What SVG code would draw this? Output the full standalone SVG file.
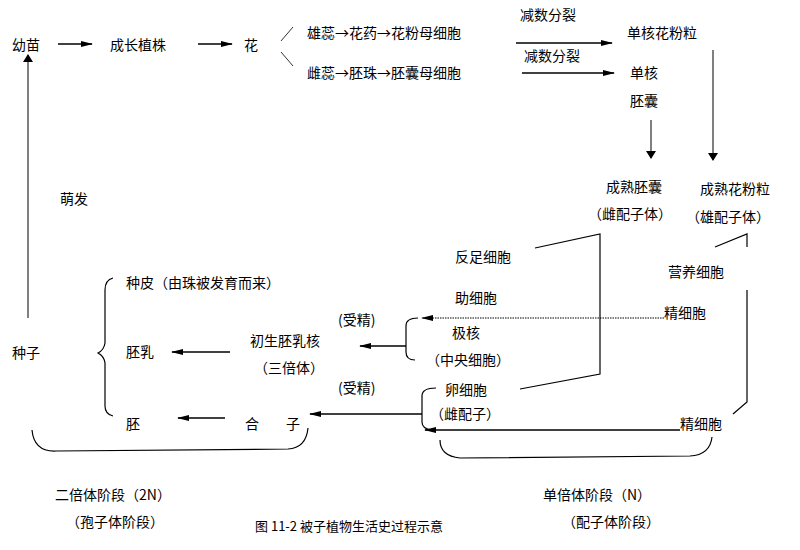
<svg xmlns="http://www.w3.org/2000/svg" width="800" height="550" viewBox="0 0 800 550">
<style>
text{font-family:"Noto Sans CJK SC","Noto Sans",sans-serif;font-size:14px;fill:#000}
.l{stroke:#000;stroke-width:1.2;fill:none}
.a{stroke:#000;stroke-width:1.5;fill:none;marker-end:url(#ah)}
.t{stroke:#000;stroke-width:1;fill:none;marker-end:url(#th)}
</style>
<defs>
<marker id="ah" markerWidth="12" markerHeight="8" refX="11" refY="4" orient="auto" markerUnits="userSpaceOnUse"><path d="M0,1 L12,4 L0,7 Z" fill="#000"/></marker>
<marker id="th" markerWidth="8" markerHeight="10" refX="7" refY="5" orient="auto" markerUnits="userSpaceOnUse"><path d="M0,0 L8,5 L0,10 Z" fill="#000"/></marker>
</defs>
<rect width="800" height="550" fill="#fff"/>
<g id="nodes">
<g id="n-youmiao"><text x="12" y="50">幼苗</text></g>
<g id="n-zhizhu"><text x="110" y="50">成长植株</text></g>
<g id="n-hua"><text x="244" y="50">花</text></g>
<g id="n-xiongrui"><text x="307" y="38">雄蕊→花药→花粉母细胞</text></g>
<g id="n-cirui"><text x="307" y="78">雌蕊→胚珠→胚囊母细胞</text></g>
<g id="n-jianshu1"><text x="520" y="20">减数分裂</text></g>
<g id="n-jianshu2"><text x="524" y="61">减数分裂</text></g>
<g id="n-danhehua"><text x="627" y="38">单核花粉粒</text></g>
<g id="n-danhepei"><text x="630" y="78">单核</text><text x="630" y="106">胚囊</text></g>
<g id="n-peinang"><text x="606" y="192">成熟胚囊</text><text x="588" y="219">（雌配子体）</text></g>
<g id="n-huafen"><text x="700" y="194">成熟花粉粒</text><text x="686" y="222">（雄配子体）</text></g>
<g id="n-mengfa"><text x="60" y="204">萌发</text></g>
<g id="n-zhongzi"><text x="12" y="358">种子</text></g>
<g id="n-zhongpi"><text x="126" y="288">种皮（由珠被发育而来）</text></g>
<g id="n-peiru"><text x="126" y="357">胚乳</text></g>
<g id="n-pei"><text x="126" y="429">胚</text></g>
<g id="n-chusheng"><text x="250" y="346">初生胚乳核</text><text x="254" y="373">（三倍体）</text></g>
<g id="n-heizi"><text x="245" y="429">合</text><text x="286" y="429">子</text></g>
<g id="n-shoujing1"><text x="338" y="325">(受精)</text></g>
<g id="n-shoujing2"><text x="338" y="393">(受精)</text></g>
<g id="n-fanzu"><text x="455" y="262">反足细胞</text></g>
<g id="n-zhu"><text x="455" y="303">助细胞</text></g>
<g id="n-jihe"><text x="452" y="338">极核</text><text x="426" y="365">（中央细胞）</text></g>
<g id="n-luan"><text x="445" y="395">卵细胞</text><text x="430" y="419">（雌配子）</text></g>
<g id="n-yingyang"><text x="668" y="277">营养细胞</text></g>
<g id="n-jing1"><text x="664" y="318">精细胞</text></g>
<g id="n-jing2"><text x="680" y="429">精细胞</text></g>
<g id="n-2n"><text x="55" y="500">二倍体阶段（2N）</text><text x="66" y="527">（孢子体阶段）</text></g>
<g id="n-n"><text x="543" y="500">单倍体阶段（N）</text><text x="562" y="527">（配子体阶段）</text></g>
<g id="n-title"><text x="255" y="531" style="font-size:13px">图 11-2 被子植物生活史过程示意</text></g>
</g>
<g id="connectors">
<line class="a" x1="58" y1="44" x2="92" y2="44"/>
<line class="a" x1="198" y1="44" x2="232" y2="44"/>
<line class="l" x1="281" y1="41" x2="293" y2="27" style="stroke-width:0.8"/>
<line class="l" x1="281" y1="52" x2="293" y2="66" style="stroke-width:0.8"/>
<line class="a" x1="516" y1="43" x2="612" y2="43"/>
<line class="a" x1="522" y1="73" x2="614" y2="73"/>
<line class="t" x1="651" y1="120" x2="651" y2="158"/>
<line class="t" x1="713" y1="50" x2="713" y2="160"/>
<line class="t" x1="28" y1="318" x2="28" y2="55"/>
<polyline class="l" points="535,248 600,234 600,374 520,389"/>
<polyline class="l" points="715,247 747,234 747,247"/>
<polyline class="l" points="747,290 747,402 733,414"/>
<line x1="664" y1="318" x2="422" y2="318" stroke="#000" stroke-width="1" stroke-dasharray="1.5,1" marker-end="url(#ah)"/>
<path class="l" d="M418,318 Q406,318 406,326 L406,352 Q406,360 415,360"/>
<line class="a" x1="406" y1="346" x2="360" y2="346"/>
<path class="l" d="M436,388 Q422,388 422,396 L422,422 Q422,429 432,430"/>
<line class="a" x1="422" y1="414" x2="310" y2="414"/>
<line class="a" x1="680" y1="430" x2="425" y2="430"/>
<path class="l" d="M440,440 Q440,456 460,458 L690,456 Q710,455 712,437"/>
<line class="a" x1="230" y1="352" x2="172" y2="352"/>
<line class="a" x1="225" y1="418" x2="178" y2="418"/>
<path class="l" d="M113,278 Q105,280 105,290 L105,343 Q104,350 98,353 Q104,356 105,363 L105,406 Q105,414 113,416"/>
<path class="l" d="M32,430 Q34,452 56,451 L288,449 Q306,448 308,428"/>
</g>
</svg>
